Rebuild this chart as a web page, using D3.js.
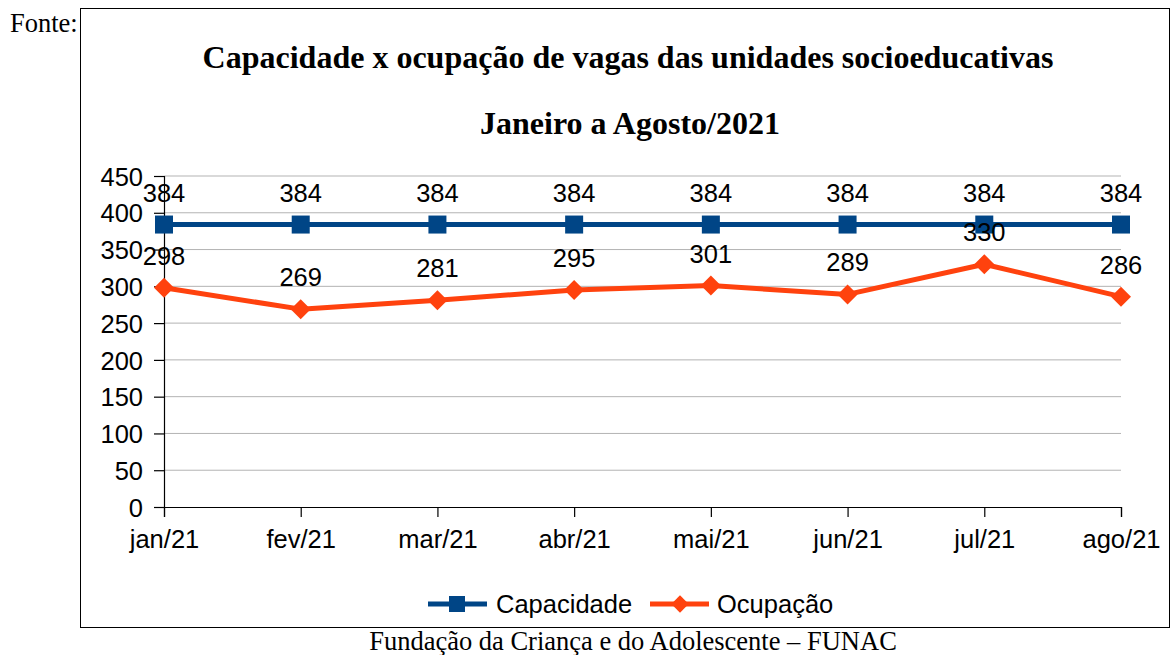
<!DOCTYPE html>
<html>
<head>
<meta charset="utf-8">
<script src="https://cdn.jsdelivr.net/npm/d3@7"></script>
<style>
  body { margin: 0; background: #fff; }
  svg { display: block; }
</style>
</head>
<body>
<div class="chart"></div>
<script>
// Data
var months = ["jan/21", "fev/21", "mar/21", "abr/21", "mai/21", "jun/21", "jul/21", "ago/21"];
var capacidade = [384, 384, 384, 384, 384, 384, 384, 384];
var ocupacao = [298, 269, 281, 295, 301, 289, 330, 286];
var yTicks = [0, 50, 100, 150, 200, 250, 300, 350, 400, 450];

var svgWidth = 1171;
var svgHeight = 655;

var margin = { top: 176, right: 50, bottom: 148, left: 164 };
var width = svgWidth - margin.left - margin.right;
var height = svgHeight - margin.top - margin.bottom;

var sans = "'Liberation Sans', Arial, sans-serif";
var serif = "'Liberation Serif', 'Times New Roman', serif";
var fs = "25.5px";

var svg = d3.select(".chart")
  .append("svg")
  .attr("width", svgWidth)
  .attr("height", svgHeight);

// outer frame + "Fonte:" + footer
svg.append("rect")
  .attr("x", 80.5).attr("y", 8.5)
  .attr("width", 1089).attr("height", 619)
  .attr("fill", "none").attr("stroke", "#000").attr("stroke-width", 1);

svg.append("text")
  .attr("x", 10).attr("y", 32)
  .style("font-family", serif).style("font-size", "26.5px")
  .text("Fonte:");

svg.append("text")
  .attr("x", 633).attr("y", 650)
  .attr("text-anchor", "middle")
  .style("font-family", serif).style("font-size", "26.5px")
  .text("Fundação da Criança e do Adolescente – FUNAC");

// titles
svg.append("text")
  .attr("x", 628).attr("y", 68)
  .attr("text-anchor", "middle")
  .style("font-family", serif).style("font-size", "32px").style("font-weight", "bold")
  .text("Capacidade x ocupação de vagas das unidades socioeducativas");

svg.append("text")
  .attr("x", 630).attr("y", 134)
  .attr("text-anchor", "middle")
  .style("font-family", serif).style("font-size", "32px").style("font-weight", "bold")
  .text("Janeiro a Agosto/2021");

var chartGroup = svg.append("g")
  .attr("transform", `translate(${margin.left}, ${margin.top})`);

// Scales
var xScale = d3.scalePoint()
  .domain(months)
  .range([0, width])
  .padding(0);

var yScale = d3.scaleLinear()
  .domain([0, 450])
  .range([height, 0]);

// gridlines
chartGroup.append("g")
  .selectAll("line")
  .data(yTicks.filter(d => d > 0))
  .enter()
  .append("line")
  .attr("x1", 0).attr("x2", width)
  .attr("y1", d => yScale(d)).attr("y2", d => yScale(d))
  .attr("stroke", "#b3b3b3").attr("stroke-width", 1);

// Axes
var leftAxis = d3.axisLeft(yScale).tickValues(yTicks).tickSize(10).tickPadding(11);
var bottomAxis = d3.axisBottom(xScale).tickSize(10).tickPadding(8);

var yAxisG = chartGroup.append("g").call(leftAxis);
var xAxisG = chartGroup.append("g")
  .attr("transform", `translate(0, ${height})`)
  .call(bottomAxis);

[yAxisG, xAxisG].forEach(function (g) {
  g.select(".domain").attr("stroke", "#000").attr("stroke-width", 1.2);
  g.selectAll(".tick line").attr("stroke", "#000").attr("stroke-width", 1.2);
  g.selectAll("text")
    .style("font-family", sans).style("font-size", fs).attr("fill", "#000");
});
yAxisG.selectAll("text").attr("dy", "0.36em");
xAxisG.selectAll("text").attr("dy", "0.9em");

// Lines
var capData = months.map((m, i) => ({ m: m, v: capacidade[i] }));
var ocuData = months.map((m, i) => ({ m: m, v: ocupacao[i] }));

var line = d3.line()
  .x(d => xScale(d.m))
  .y(d => yScale(d.v));

chartGroup.append("path")
  .datum(capData)
  .attr("d", line)
  .attr("fill", "none").attr("stroke", "#004586").attr("stroke-width", 5);

chartGroup.append("path")
  .datum(ocuData)
  .attr("d", line)
  .attr("fill", "none").attr("stroke", "#ff420e").attr("stroke-width", 5)
  .attr("stroke-linejoin", "round");

// markers
chartGroup.selectAll(".sq")
  .data(capData)
  .enter()
  .append("rect")
  .attr("class", "sq")
  .attr("x", d => xScale(d.m) - 9)
  .attr("y", d => yScale(d.v) - 9)
  .attr("width", 18).attr("height", 18)
  .attr("fill", "#004586");

var diamond = d3.symbol().type(d3.symbolSquare).size(200);
chartGroup.selectAll(".dm")
  .data(ocuData)
  .enter()
  .append("path")
  .attr("class", "dm")
  .attr("d", diamond)
  .attr("transform", d => `translate(${xScale(d.m)}, ${yScale(d.v)}) rotate(45)`)
  .attr("fill", "#ff420e");

// data labels
function addLabels(data) {
  chartGroup.append("g")
    .selectAll("text")
    .data(data)
    .enter()
    .append("text")
    .attr("x", d => xScale(d.m))
    .attr("y", d => yScale(d.v) - 23)
    .attr("text-anchor", "middle")
    .style("font-family", sans).style("font-size", fs)
    .text(d => d.v);
}
addLabels(capData);
addLabels(ocuData);

// Legend
var legend = svg.append("g").attr("transform", "translate(0, 604)");
legend.append("line")
  .attr("x1", 428).attr("x2", 487).attr("y1", 0).attr("y2", 0)
  .attr("stroke", "#004586").attr("stroke-width", 5);
legend.append("rect")
  .attr("x", 449).attr("y", -8).attr("width", 16).attr("height", 16)
  .attr("fill", "#004586");
legend.append("text")
  .attr("x", 496).attr("y", 0).attr("dy", "0.36em")
  .style("font-family", sans).style("font-size", fs)
  .text("Capacidade");

legend.append("line")
  .attr("x1", 650).attr("x2", 709).attr("y1", 0).attr("y2", 0)
  .attr("stroke", "#ff420e").attr("stroke-width", 5);
legend.append("path")
  .attr("d", d3.symbol().type(d3.symbolSquare).size(150))
  .attr("transform", "translate(680, 0) rotate(45)")
  .attr("fill", "#ff420e");
legend.append("text")
  .attr("x", 717).attr("y", 0).attr("dy", "0.36em")
  .style("font-family", sans).style("font-size", fs)
  .text("Ocupação");
</script>
</body>
</html>
